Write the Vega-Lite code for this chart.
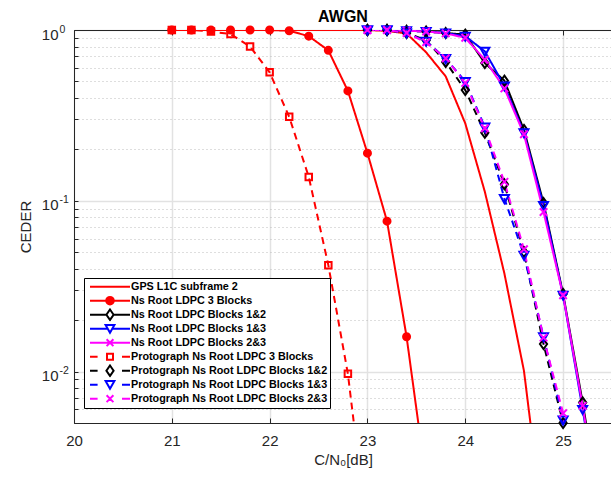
{
  "$schema": "https://vega.github.io/schema/vega-lite/v6.json",
  "width": 538,
  "height": 393,
  "autosize": "none",
  "padding": {"left": 74, "top": 30, "right": 0, "bottom": 56},
  "title": {"text": "AWGN", "fontSize": 16, "fontWeight": "bold", "font": "Liberation Sans", "color": "black", "offset": -4, "anchor": "middle"},
  "config": {"view": {"stroke": null}, "font": "Liberation Sans"},
  "datasets": {
    "curves": [
      {"s": "GPS L1C subframe 2", "x": 21.0, "y": 1},
      {"s": "GPS L1C subframe 2", "x": 21.2, "y": 1},
      {"s": "GPS L1C subframe 2", "x": 21.4, "y": 1},
      {"s": "GPS L1C subframe 2", "x": 21.6, "y": 1},
      {"s": "GPS L1C subframe 2", "x": 21.8, "y": 1},
      {"s": "GPS L1C subframe 2", "x": 22.0, "y": 1},
      {"s": "GPS L1C subframe 2", "x": 22.2, "y": 1},
      {"s": "GPS L1C subframe 2", "x": 22.4, "y": 1},
      {"s": "GPS L1C subframe 2", "x": 22.6, "y": 1},
      {"s": "GPS L1C subframe 2", "x": 22.8, "y": 1},
      {"s": "GPS L1C subframe 2", "x": 23.0, "y": 1},
      {"s": "GPS L1C subframe 2", "x": 23.2, "y": 0.988},
      {"s": "GPS L1C subframe 2", "x": 23.4, "y": 0.955},
      {"s": "GPS L1C subframe 2", "x": 23.6, "y": 0.74},
      {"s": "GPS L1C subframe 2", "x": 23.8, "y": 0.535},
      {"s": "GPS L1C subframe 2", "x": 24.0, "y": 0.284},
      {"s": "GPS L1C subframe 2", "x": 24.2, "y": 0.113},
      {"s": "GPS L1C subframe 2", "x": 24.4, "y": 0.0375},
      {"s": "GPS L1C subframe 2", "x": 24.6, "y": 0.0101},
      {"s": "GPS L1C subframe 2", "x": 24.8, "y": 0.0012},
      {"s": "Ns Root LDPC 3 Blocks", "x": 21.0, "y": 1},
      {"s": "Ns Root LDPC 3 Blocks", "x": 21.2, "y": 1},
      {"s": "Ns Root LDPC 3 Blocks", "x": 21.4, "y": 1},
      {"s": "Ns Root LDPC 3 Blocks", "x": 21.6, "y": 1},
      {"s": "Ns Root LDPC 3 Blocks", "x": 21.8, "y": 1},
      {"s": "Ns Root LDPC 3 Blocks", "x": 22.0, "y": 1},
      {"s": "Ns Root LDPC 3 Blocks", "x": 22.2, "y": 0.99},
      {"s": "Ns Root LDPC 3 Blocks", "x": 22.4, "y": 0.92},
      {"s": "Ns Root LDPC 3 Blocks", "x": 22.6, "y": 0.76},
      {"s": "Ns Root LDPC 3 Blocks", "x": 22.8, "y": 0.44},
      {"s": "Ns Root LDPC 3 Blocks", "x": 23.0, "y": 0.19},
      {"s": "Ns Root LDPC 3 Blocks", "x": 23.2, "y": 0.076},
      {"s": "Ns Root LDPC 3 Blocks", "x": 23.4, "y": 0.016},
      {"s": "Ns Root LDPC 3 Blocks", "x": 23.6, "y": 0.0023},
      {"s": "Ns Root LDPC Blocks 1&2", "x": 23.0, "y": 1},
      {"s": "Ns Root LDPC Blocks 1&2", "x": 23.2, "y": 1},
      {"s": "Ns Root LDPC Blocks 1&2", "x": 23.4, "y": 0.99},
      {"s": "Ns Root LDPC Blocks 1&2", "x": 23.6, "y": 0.98},
      {"s": "Ns Root LDPC Blocks 1&2", "x": 23.8, "y": 0.96},
      {"s": "Ns Root LDPC Blocks 1&2", "x": 24.0, "y": 0.94},
      {"s": "Ns Root LDPC Blocks 1&2", "x": 24.2, "y": 0.64},
      {"s": "Ns Root LDPC Blocks 1&2", "x": 24.4, "y": 0.505},
      {"s": "Ns Root LDPC Blocks 1&2", "x": 24.6, "y": 0.26},
      {"s": "Ns Root LDPC Blocks 1&2", "x": 24.8, "y": 0.097},
      {"s": "Ns Root LDPC Blocks 1&2", "x": 25.0, "y": 0.0285},
      {"s": "Ns Root LDPC Blocks 1&2", "x": 25.2, "y": 0.0066},
      {"s": "Ns Root LDPC Blocks 1&2", "x": 25.4, "y": 0.0013},
      {"s": "Ns Root LDPC Blocks 1&3", "x": 23.0, "y": 1},
      {"s": "Ns Root LDPC Blocks 1&3", "x": 23.2, "y": 1},
      {"s": "Ns Root LDPC Blocks 1&3", "x": 23.4, "y": 0.99},
      {"s": "Ns Root LDPC Blocks 1&3", "x": 23.6, "y": 0.98},
      {"s": "Ns Root LDPC Blocks 1&3", "x": 23.8, "y": 0.96},
      {"s": "Ns Root LDPC Blocks 1&3", "x": 24.0, "y": 0.92},
      {"s": "Ns Root LDPC Blocks 1&3", "x": 24.2, "y": 0.75},
      {"s": "Ns Root LDPC Blocks 1&3", "x": 24.4, "y": 0.47},
      {"s": "Ns Root LDPC Blocks 1&3", "x": 24.6, "y": 0.25},
      {"s": "Ns Root LDPC Blocks 1&3", "x": 24.8, "y": 0.094},
      {"s": "Ns Root LDPC Blocks 1&3", "x": 25.0, "y": 0.028},
      {"s": "Ns Root LDPC Blocks 1&3", "x": 25.2, "y": 0.006},
      {"s": "Ns Root LDPC Blocks 1&3", "x": 25.4, "y": 0.0012},
      {"s": "Ns Root LDPC Blocks 2&3", "x": 23.0, "y": 1},
      {"s": "Ns Root LDPC Blocks 2&3", "x": 23.2, "y": 1},
      {"s": "Ns Root LDPC Blocks 2&3", "x": 23.4, "y": 0.99},
      {"s": "Ns Root LDPC Blocks 2&3", "x": 23.6, "y": 0.98},
      {"s": "Ns Root LDPC Blocks 2&3", "x": 23.8, "y": 0.955},
      {"s": "Ns Root LDPC Blocks 2&3", "x": 24.0, "y": 0.9},
      {"s": "Ns Root LDPC Blocks 2&3", "x": 24.2, "y": 0.67},
      {"s": "Ns Root LDPC Blocks 2&3", "x": 24.4, "y": 0.455},
      {"s": "Ns Root LDPC Blocks 2&3", "x": 24.6, "y": 0.245},
      {"s": "Ns Root LDPC Blocks 2&3", "x": 24.8, "y": 0.086},
      {"s": "Ns Root LDPC Blocks 2&3", "x": 25.0, "y": 0.028},
      {"s": "Ns Root LDPC Blocks 2&3", "x": 25.2, "y": 0.0063},
      {"s": "Ns Root LDPC Blocks 2&3", "x": 25.4, "y": 0.0012},
      {"s": "Protograph Ns Root LDPC 3 Blocks", "x": 21.0, "y": 1},
      {"s": "Protograph Ns Root LDPC 3 Blocks", "x": 21.2, "y": 1},
      {"s": "Protograph Ns Root LDPC 3 Blocks", "x": 21.4, "y": 0.98},
      {"s": "Protograph Ns Root LDPC 3 Blocks", "x": 21.6, "y": 0.947},
      {"s": "Protograph Ns Root LDPC 3 Blocks", "x": 21.8, "y": 0.8},
      {"s": "Protograph Ns Root LDPC 3 Blocks", "x": 22.0, "y": 0.565},
      {"s": "Protograph Ns Root LDPC 3 Blocks", "x": 22.2, "y": 0.31},
      {"s": "Protograph Ns Root LDPC 3 Blocks", "x": 22.4, "y": 0.138},
      {"s": "Protograph Ns Root LDPC 3 Blocks", "x": 22.6, "y": 0.042},
      {"s": "Protograph Ns Root LDPC 3 Blocks", "x": 22.8, "y": 0.0097},
      {"s": "Protograph Ns Root LDPC 3 Blocks", "x": 23.0, "y": 0.0011},
      {"s": "Protograph Ns Root LDPC Blocks 1&2", "x": 23.0, "y": 1},
      {"s": "Protograph Ns Root LDPC Blocks 1&2", "x": 23.2, "y": 1},
      {"s": "Protograph Ns Root LDPC Blocks 1&2", "x": 23.4, "y": 0.96},
      {"s": "Protograph Ns Root LDPC Blocks 1&2", "x": 23.6, "y": 0.87},
      {"s": "Protograph Ns Root LDPC Blocks 1&2", "x": 23.8, "y": 0.65},
      {"s": "Protograph Ns Root LDPC Blocks 1&2", "x": 24.0, "y": 0.445},
      {"s": "Protograph Ns Root LDPC Blocks 1&2", "x": 24.2, "y": 0.25},
      {"s": "Protograph Ns Root LDPC Blocks 1&2", "x": 24.4, "y": 0.125},
      {"s": "Protograph Ns Root LDPC Blocks 1&2", "x": 24.6, "y": 0.05},
      {"s": "Protograph Ns Root LDPC Blocks 1&2", "x": 24.8, "y": 0.0145},
      {"s": "Protograph Ns Root LDPC Blocks 1&2", "x": 25.0, "y": 0.005},
      {"s": "Protograph Ns Root LDPC Blocks 1&2", "x": 25.2, "y": 0.0009},
      {"s": "Protograph Ns Root LDPC Blocks 1&3", "x": 23.0, "y": 1},
      {"s": "Protograph Ns Root LDPC Blocks 1&3", "x": 23.2, "y": 1},
      {"s": "Protograph Ns Root LDPC Blocks 1&3", "x": 23.4, "y": 0.96},
      {"s": "Protograph Ns Root LDPC Blocks 1&3", "x": 23.6, "y": 0.86},
      {"s": "Protograph Ns Root LDPC Blocks 1&3", "x": 23.8, "y": 0.68},
      {"s": "Protograph Ns Root LDPC Blocks 1&3", "x": 24.0, "y": 0.5},
      {"s": "Protograph Ns Root LDPC Blocks 1&3", "x": 24.2, "y": 0.27},
      {"s": "Protograph Ns Root LDPC Blocks 1&3", "x": 24.4, "y": 0.103},
      {"s": "Protograph Ns Root LDPC Blocks 1&3", "x": 24.6, "y": 0.048},
      {"s": "Protograph Ns Root LDPC Blocks 1&3", "x": 24.8, "y": 0.016},
      {"s": "Protograph Ns Root LDPC Blocks 1&3", "x": 25.0, "y": 0.0052},
      {"s": "Protograph Ns Root LDPC Blocks 1&3", "x": 25.2, "y": 0.0009},
      {"s": "Protograph Ns Root LDPC Blocks 2&3", "x": 23.0, "y": 1},
      {"s": "Protograph Ns Root LDPC Blocks 2&3", "x": 23.2, "y": 1},
      {"s": "Protograph Ns Root LDPC Blocks 2&3", "x": 23.4, "y": 0.96},
      {"s": "Protograph Ns Root LDPC Blocks 2&3", "x": 23.6, "y": 0.847},
      {"s": "Protograph Ns Root LDPC Blocks 2&3", "x": 23.8, "y": 0.683},
      {"s": "Protograph Ns Root LDPC Blocks 2&3", "x": 24.0, "y": 0.49},
      {"s": "Protograph Ns Root LDPC Blocks 2&3", "x": 24.2, "y": 0.266},
      {"s": "Protograph Ns Root LDPC Blocks 2&3", "x": 24.4, "y": 0.129},
      {"s": "Protograph Ns Root LDPC Blocks 2&3", "x": 24.6, "y": 0.052},
      {"s": "Protograph Ns Root LDPC Blocks 2&3", "x": 24.8, "y": 0.0158},
      {"s": "Protograph Ns Root LDPC Blocks 2&3", "x": 25.0, "y": 0.0057},
      {"s": "Protograph Ns Root LDPC Blocks 2&3", "x": 25.2, "y": 0.001}
    ],
    "names": [
      {"s": "GPS L1C subframe 2"},
      {"s": "Ns Root LDPC 3 Blocks"},
      {"s": "Ns Root LDPC Blocks 1&2"},
      {"s": "Ns Root LDPC Blocks 1&3"},
      {"s": "Ns Root LDPC Blocks 2&3"},
      {"s": "Protograph Ns Root LDPC 3 Blocks"},
      {"s": "Protograph Ns Root LDPC Blocks 1&2"},
      {"s": "Protograph Ns Root LDPC Blocks 1&3"},
      {"s": "Protograph Ns Root LDPC Blocks 2&3"}
    ]
  },
  "layer": [
    {
      "data": {"name": "curves"},
      "mark": {"type": "line", "strokeWidth": 2, "clip": true},
      "encoding": {
        "x": {
          "field": "x", "type": "quantitative",
          "scale": {"domain": [20, 25.5], "nice": false, "zero": false},
          "axis": {
            "orient": "bottom", "values": [20, 21, 22, 23, 24, 25], "format": "d",
            "title": "C/N₀[dB]", "grid": true, "gridColor": "#e2e2e2", "gridWidth": 1.5,
            "domainColor": "#262626", "tickColor": "#262626", "tickSize": -5,
            "labelPadding": 15, "labelFontSize": 15, "labelColor": "#262626", "labelFont": "Liberation Sans",
            "labelFlush": false, "labelOverlap": false,
            "titleFontSize": 15, "titleFontWeight": "normal", "titleColor": "#262626", "titleFont": "Liberation Sans", "titlePadding": 4
          }
        },
        "y": {
          "field": "y", "type": "quantitative",
          "scale": {"type": "log", "domain": [0.005, 1], "nice": false},
          "axis": {
            "orient": "left",
            "values": [0.005, 0.006, 0.007, 0.008, 0.009, 0.01, 0.02, 0.03, 0.04, 0.05, 0.06, 0.07, 0.08, 0.09, 0.1, 0.2, 0.3, 0.4, 0.5, 0.6, 0.7, 0.8, 0.9, 1],
            "labelExpr": "datum.value == 1 || datum.value == 0.1 || datum.value == 0.01 ? '10' : ''",
            "title": "CEDER", "grid": true,
            "gridColor": {"condition": {"test": "datum.value == 1 || datum.value == 0.1 || datum.value == 0.01", "value": "#e2e2e2"}, "value": "#bdbdbd"},
            "gridDash": {"condition": {"test": "datum.value == 1 || datum.value == 0.1 || datum.value == 0.01", "value": []}, "value": [1, 3]},
            "gridWidth": {"condition": {"test": "datum.value == 1 || datum.value == 0.1 || datum.value == 0.01", "value": 1.5}, "value": 1},
            "domainColor": "#262626", "tickColor": "#262626", "tickSize": -4,
            "labelPadding": 20, "labelOffset": 4, "labelFontSize": 15, "labelColor": "#262626", "labelFont": "Liberation Sans",
            "labelFlush": false, "labelOverlap": false,
            "titleFontSize": 15, "titleFontWeight": "normal", "titleColor": "#262626", "titleFont": "Liberation Sans", "titlePadding": 8
          }
        },
        "color": {
          "field": "s", "type": "nominal", "legend": null,
          "scale": {
            "domain": ["GPS L1C subframe 2", "Ns Root LDPC 3 Blocks", "Ns Root LDPC Blocks 1&2", "Ns Root LDPC Blocks 1&3", "Ns Root LDPC Blocks 2&3", "Protograph Ns Root LDPC 3 Blocks", "Protograph Ns Root LDPC Blocks 1&2", "Protograph Ns Root LDPC Blocks 1&3", "Protograph Ns Root LDPC Blocks 2&3"],
            "range": ["#ff0000", "#ff0000", "#000000", "#0000ff", "#ff00ff", "#ff0000", "#000000", "#0000ff", "#ff00ff"]
          }
        },
        "strokeDash": {
          "field": "s", "type": "nominal", "legend": null,
          "scale": {
            "domain": ["GPS L1C subframe 2", "Ns Root LDPC 3 Blocks", "Ns Root LDPC Blocks 1&2", "Ns Root LDPC Blocks 1&3", "Ns Root LDPC Blocks 2&3", "Protograph Ns Root LDPC 3 Blocks", "Protograph Ns Root LDPC Blocks 1&2", "Protograph Ns Root LDPC Blocks 1&3", "Protograph Ns Root LDPC Blocks 2&3"],
            "range": [[1, 0], [1, 0], [1, 0], [1, 0], [1, 0], [7, 5], [7, 5], [7, 5], [7, 5]]
          }
        }
      }
    },
    {
      "data": {"name": "curves"},
      "transform": [{"filter": "datum.s != 'GPS L1C subframe 2' && datum.y >= 0.0049"}],
      "mark": {"type": "point", "size": 100, "strokeWidth": 2, "opacity": 1, "clip": false},
      "encoding": {
        "x": {
          "field": "x", "type": "quantitative",
          "axis": {"orient": "top", "values": [20, 21, 22, 23, 24, 25], "labels": false, "grid": false, "title": null, "tickSize": -5, "tickColor": "#262626", "domainColor": "#262626"}
        },
        "y": {
          "field": "y", "type": "quantitative",
          "axis": {"orient": "left", "values": [0.01, 0.1, 1], "labelExpr": "datum.value == 1 ? '0' : datum.value == 0.1 ? '-1' : '-2'", "grid": false, "domain": false, "ticks": false, "title": null, "labelAlign": "left", "labelPadding": 15, "labelOffset": -1, "labelFontSize": 10.5, "labelColor": "#262626", "labelFont": "Liberation Sans", "labelFlush": false, "labelOverlap": false}
        },
        "color": {
          "field": "s", "type": "nominal", "legend": null,
          "scale": {
            "domain": ["GPS L1C subframe 2", "Ns Root LDPC 3 Blocks", "Ns Root LDPC Blocks 1&2", "Ns Root LDPC Blocks 1&3", "Ns Root LDPC Blocks 2&3", "Protograph Ns Root LDPC 3 Blocks", "Protograph Ns Root LDPC Blocks 1&2", "Protograph Ns Root LDPC Blocks 1&3", "Protograph Ns Root LDPC Blocks 2&3"],
            "range": ["#ff0000", "#ff0000", "#000000", "#0000ff", "#ff00ff", "#ff0000", "#000000", "#0000ff", "#ff00ff"]
          }
        },
        "fill": {
          "field": "s", "type": "nominal", "legend": null,
          "scale": {
            "domain": ["GPS L1C subframe 2", "Ns Root LDPC 3 Blocks", "Ns Root LDPC Blocks 1&2", "Ns Root LDPC Blocks 1&3", "Ns Root LDPC Blocks 2&3", "Protograph Ns Root LDPC 3 Blocks", "Protograph Ns Root LDPC Blocks 1&2", "Protograph Ns Root LDPC Blocks 1&3", "Protograph Ns Root LDPC Blocks 2&3"],
            "range": ["transparent", "#ff0000", "transparent", "transparent", "transparent", "transparent", "transparent", "transparent", "transparent"]
          }
        },
        "shape": {
          "field": "s", "type": "nominal", "legend": null,
          "scale": {
            "domain": ["GPS L1C subframe 2", "Ns Root LDPC 3 Blocks", "Ns Root LDPC Blocks 1&2", "Ns Root LDPC Blocks 1&3", "Ns Root LDPC Blocks 2&3", "Protograph Ns Root LDPC 3 Blocks", "Protograph Ns Root LDPC Blocks 1&2", "Protograph Ns Root LDPC Blocks 1&3", "Protograph Ns Root LDPC Blocks 2&3"],
            "range": [
              "circle",
              "M0.7,0A0.7,0.7,0,1,1,-0.7,0A0.7,0.7,0,1,1,0.7,0Z",
              "M0,-1L0.72,0L0,1L-0.72,0Z",
              "M-0.9,-0.7L0.9,-0.7L0,0.9Z",
              "M-0.75,-0.75L0.75,0.75M0.75,-0.75L-0.75,0.75",
              "M-0.65,-0.65L0.65,-0.65L0.65,0.65L-0.65,0.65Z",
              "M0,-1L0.72,0L0,1L-0.72,0Z",
              "M-0.9,-0.7L0.9,-0.7L0,0.9Z",
              "M-0.75,-0.75L0.75,0.75M0.75,-0.75L-0.75,0.75"
            ]
          }
        }
      }
    },
    {
      "data": {"name": "names"},
      "mark": {"type": "point", "size": 1600, "strokeWidth": 2, "opacity": 0},
      "encoding": {
        "color": {
          "field": "s", "type": "nominal",
          "scale": {
            "domain": ["GPS L1C subframe 2", "Ns Root LDPC 3 Blocks", "Ns Root LDPC Blocks 1&2", "Ns Root LDPC Blocks 1&3", "Ns Root LDPC Blocks 2&3", "Protograph Ns Root LDPC 3 Blocks", "Protograph Ns Root LDPC Blocks 1&2", "Protograph Ns Root LDPC Blocks 1&3", "Protograph Ns Root LDPC Blocks 2&3"],
            "range": ["#ff0000", "#ff0000", "#000000", "#0000ff", "#ff00ff", "#ff0000", "#000000", "#0000ff", "#ff00ff"]
          },
          "legend": {"orient": "none", "legendX": 10, "legendY": 248, "title": null, "symbolSize": 1600, "symbolStrokeWidth": 2, "symbolOpacity": 1, "clipHeight": 13.4, "rowPadding": 0, "padding": 2, "symbolOffset": 3, "labelOffset": 0, "labelFont": "Liberation Sans", "labelFontWeight": "bold", "labelFontSize": 10.8, "labelColor": "#000000", "labelLimit": 400, "strokeColor": "#000000", "fillColor": "#ffffff"}
        },
        "fill": {
          "field": "s", "type": "nominal",
          "scale": {
            "domain": ["GPS L1C subframe 2", "Ns Root LDPC 3 Blocks", "Ns Root LDPC Blocks 1&2", "Ns Root LDPC Blocks 1&3", "Ns Root LDPC Blocks 2&3", "Protograph Ns Root LDPC 3 Blocks", "Protograph Ns Root LDPC Blocks 1&2", "Protograph Ns Root LDPC Blocks 1&3", "Protograph Ns Root LDPC Blocks 2&3"],
            "range": ["#ffffff", "#ff0000", "#ffffff", "#ffffff", "#ffffff", "#ffffff", "#ffffff", "#ffffff", "#ffffff"]
          },
          "legend": {"orient": "none", "legendX": 10, "legendY": 248, "title": null, "symbolSize": 1600, "symbolStrokeWidth": 2, "symbolOpacity": 1, "clipHeight": 13.4, "rowPadding": 0, "padding": 2, "symbolOffset": 3, "labelOffset": 0, "labelFont": "Liberation Sans", "labelFontWeight": "bold", "labelFontSize": 10.8, "labelColor": "#000000", "labelLimit": 400, "strokeColor": "#000000", "fillColor": "#ffffff"}
        },
        "shape": {
          "field": "s", "type": "nominal",
          "scale": {
            "domain": ["GPS L1C subframe 2", "Ns Root LDPC 3 Blocks", "Ns Root LDPC Blocks 1&2", "Ns Root LDPC Blocks 1&3", "Ns Root LDPC Blocks 2&3", "Protograph Ns Root LDPC 3 Blocks", "Protograph Ns Root LDPC Blocks 1&2", "Protograph Ns Root LDPC Blocks 1&3", "Protograph Ns Root LDPC Blocks 2&3"],
            "range": [
              "M-1,0L1,0",
              "M-1,0L1,0M0.19,0A0.19,0.19,0,1,1,-0.19,0A0.19,0.19,0,1,1,0.19,0Z",
              "M-1,0L-0.18,0M0.18,0L1,0M0,-0.26L0.18,0L0,0.26L-0.18,0Z",
              "M-1,0L-0.12,0M0.12,0L1,0M-0.22,-0.18L0.22,-0.18L0,0.2Z",
              "M-1,0L1,0M-0.17,-0.17L0.17,0.17M0.17,-0.17L-0.17,0.17",
              "M-1,0L-0.62,0M0.6,0L1,0M-0.15,-0.15L0.15,-0.15L0.15,0.15L-0.15,0.15Z",
              "M-1,0L-0.62,0M0.6,0L1,0M0,-0.26L0.18,0L0,0.26L-0.18,0Z",
              "M-1,0L-0.62,0M0.6,0L1,0M-0.22,-0.18L0.22,-0.18L0,0.2Z",
              "M-1,0L-0.62,0M0.6,0L1,0M-0.17,-0.17L0.17,0.17M0.17,-0.17L-0.17,0.17"
            ]
          },
          "legend": {"orient": "none", "legendX": 10, "legendY": 248, "title": null, "symbolSize": 1600, "symbolStrokeWidth": 2, "symbolOpacity": 1, "clipHeight": 13.4, "rowPadding": 0, "padding": 2, "symbolOffset": 3, "labelOffset": 0, "labelFont": "Liberation Sans", "labelFontWeight": "bold", "labelFontSize": 10.8, "labelColor": "#000000", "labelLimit": 400, "strokeColor": "#000000", "fillColor": "#ffffff"}
        }
      }
    }
  ],
  "resolve": {
    "scale": {"color": "independent", "fill": "independent", "shape": "independent", "strokeDash": "independent"},
    "axis": {"x": "independent", "y": "independent"}
  }
}
